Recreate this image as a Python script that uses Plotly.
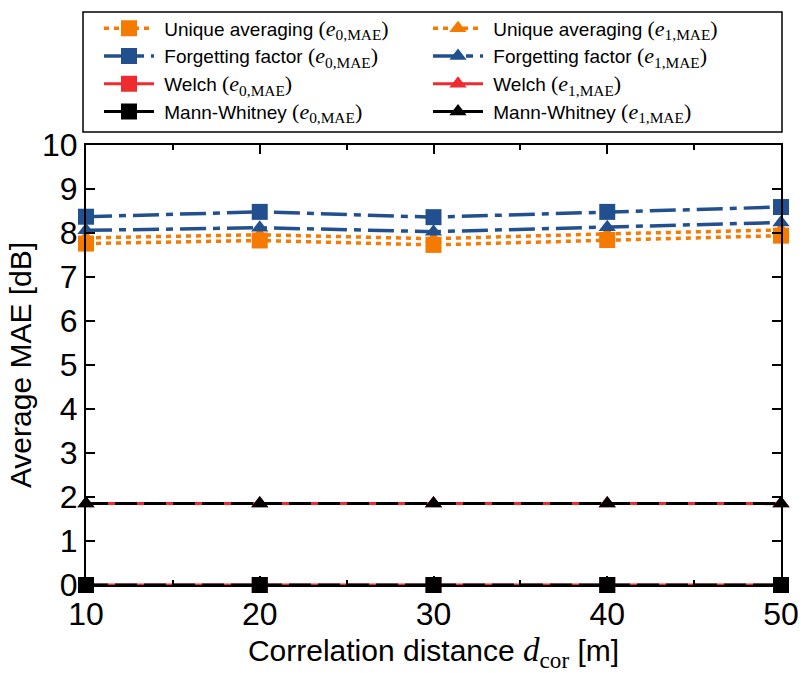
import plotly.graph_objects as go

# Correlation distance [m]
d_cor = [10, 20, 30, 40, 50]

# Average MAE [dB] per method and error metric
unique_e0 = [7.76, 7.83, 7.73, 7.84, 7.94]
unique_e1 = [7.89, 7.96, 7.87, 7.98, 8.07]
forget_e0 = [8.37, 8.48, 8.36, 8.48, 8.59]
forget_e1 = [8.06, 8.12, 8.03, 8.13, 8.24]
welch_e0 = [0.0, 0.0, 0.0, 0.0, 0.0]
welch_e1 = [1.85, 1.85, 1.85, 1.85, 1.85]
mann_e0 = [0.0, 0.0, 0.0, 0.0, 0.0]
mann_e1 = [1.85, 1.85, 1.85, 1.85, 1.85]

y_ticks = list(range(0, 11))
x_ticks = [10, 20, 30, 40, 50]

ORANGE = "#f57a00"
BLUE = "#22508f"
RED = "#ee2b2f"
BLACK = "#000000"

SERIF = "Liberation Serif"
NBSP = "\u00a0"


def metric(name, idx):
    return (f"{NBSP}{name} <span style='font-family:{SERIF};font-size:22px'>(<i>e</i>"
            f"<sub>{idx},MAE</sub>)</span>")


# (name, values, colour, dash, width, symbol, size, legend rank)
series = [
    (metric("Unique averaging", 1), unique_e1, ORANGE, "5px,5px", 3.5, "triangle-up", 15, 2),
    (metric("Unique averaging", 0), unique_e0, ORANGE, "5px,5px", 3.5, "square", 16, 1),
    (metric("Forgetting factor", 1), forget_e1, BLUE, "26px,7px,7px,7px", 3.5, "triangle-up", 15, 4),
    (metric("Forgetting factor", 0), forget_e0, BLUE, "26px,7px,7px,7px", 3.5, "square", 16, 3),
    (metric("Welch", 0), welch_e0, RED, "solid", 3, "square", 16, 5),
    (metric("Welch", 1), welch_e1, RED, "solid", 3, "triangle-up", 15, 6),
    (metric("Mann-Whitney", 0), mann_e0, BLACK, "22px,7px", 3, "square", 16, 7),
    (metric("Mann-Whitney", 1), mann_e1, BLACK, "22px,7px", 3, "triangle-up", 15, 8),
]

fig = go.Figure()
for name, vals, col, dash, lw, sym, size, rank in series:
    fig.add_trace(go.Scatter(
        x=d_cor, y=vals, name=name, mode="lines+markers",
        line=dict(color=col, dash=dash, width=lw),
        marker=dict(symbol=sym, size=size, color=col, line=dict(width=0)),
        cliponaxis=False, legendrank=rank,
    ))

axis_common = dict(
    showline=True, linecolor="black", linewidth=2, mirror="ticks",
    ticks="inside", ticklen=9, tickwidth=2, tickcolor="black",
    showgrid=False, zeroline=False,
    tickfont=dict(family="Liberation Sans", size=32, color="black"),
)

fig.update_xaxes(
    range=[10, 50], tickvals=x_ticks, ticktext=[str(v) for v in x_ticks],
    title=dict(text=f"Correlation distance <span style='font-family:{SERIF};font-size:33px'><i>d</i>"
                    f"<sub>cor</sub></span> [m]",
               font=dict(family="Liberation Sans", size=30, color="black"),
               standoff=10),
    minor=dict(ticks="inside", ticklen=5, tickwidth=1.5, tickcolor="black", dtick=5, tick0=5),
    **axis_common,
)
fig.update_yaxes(
    range=[0, 10], tickvals=y_ticks, ticktext=[str(v) for v in y_ticks],
    title=dict(text="Average MAE [dB]",
               font=dict(family="Liberation Sans", size=30, color="black"),
               standoff=2),
    **axis_common,
)

# plot area in pixels
L, R, T, B = 86, 22, 145, 88
W, H = 803, 673
pw, ph = W - L - R, H - T - B


def px_x(x):
    return (x - L) / pw


def px_y(y):
    return (H - B - y) / ph


fig.update_layout(
    width=W, height=H,
    margin=dict(l=L, r=R, t=T, b=B, autoexpand=False),
    plot_bgcolor="white", paper_bgcolor="white",
    font=dict(family="Liberation Sans", color="black"),
    legend=dict(
        orientation="h", x=px_x(99), y=px_y(9.5), xanchor="left", yanchor="top",
        entrywidth=264, entrywidthmode="pixels", itemwidth=50,
        borderwidth=0, bgcolor="rgba(0,0,0,0)",
        font=dict(family="Liberation Sans", size=19, color="black"),
        tracegroupgap=0, traceorder="normal",
    ),
    shapes=[dict(
        type="rect", xref="paper", yref="paper",
        x0=px_x(83), x1=px_x(782), y0=px_y(132), y1=px_y(12),
        line=dict(color="black", width=1.5), fillcolor="rgba(0,0,0,0)", layer="below",
    )],
)

fig.write_html("out.html")
